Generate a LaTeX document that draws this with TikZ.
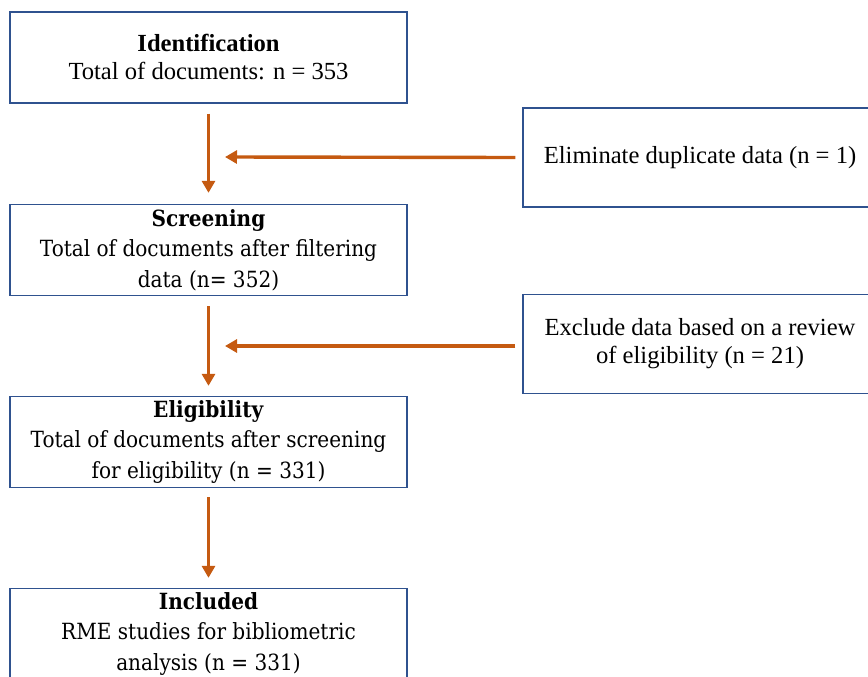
\documentclass[tikz,border=0pt]{standalone}
\usepackage{fontspec}
\usepackage{xcolor}
\usetikzlibrary{arrows.meta}
\setmainfont{Liberation Serif}
\newfontfamily\cambria[FakeStretch=0.9]{DejaVu Serif}
\definecolor{boxblue}{RGB}{47,82,143}
\definecolor{arrorange}{RGB}{197,90,17}

\begin{document}
\begin{tikzpicture}[x=1pt,y=-1pt,
	box/.style={draw=boxblue, line width=1.3pt, minimum width=397pt, minimum height=91pt, align=center, inner sep=0pt},
	sidebox/.style={box, minimum width=354pt, minimum height=99pt},
	times/.style={font=\fontsize{24.6}{28}\selectfont},
	camb/.style={font=\cambria\fontsize{22.3}{30.5}\selectfont},
	arr/.style={draw=arrorange, line width=3.4pt, -{Triangle[length=12pt,width=13pt]}}]
	\useasboundingbox (0,0) rectangle (868,677);
	\clip (0,0) rectangle (868,677);

	% main column
	\node[box,times] (ident) at (208.5,57.5) {\textbf{Identification}\\Total of documents: n = 353};
	\node[box,camb] (screen) at (208.5,250) {\textbf{Screening}\\Total of documents after filtering\\data (n= 352)};
	\node[box,camb] (elig) at (208.5,442) {\textbf{Eligibility}\\Total of documents after screening\\for eligibility (n = 331)};
	\node[box,camb] (incl) at (208.5,634) {\textbf{Included}\\RME studies for bibliometric\\analysis (n = 331)};

	% side boxes
	\node[sidebox,times] (dup) at (700,157.5) {Eliminate duplicate data (n = 1)};
	\node[sidebox,times] (excl) at (700,344) {Exclude data based on a review\\of eligibility (n = 21)};

	\coordinate (m1) at (225,157);
	\coordinate (m2) at (225,346);

	\draw[arr] ([yshift=-10pt]ident.south) -- ([yshift=11pt]screen.north);
	\draw[arr] ([yshift=-10pt]screen.south) -- ([yshift=10pt]elig.north);
	\draw[arr] ([yshift=-9pt]elig.south) -- ([yshift=10pt]incl.north);
	\draw[arr] ([xshift=-7pt]dup.west) -- (m1);
	\draw[arr] ([xshift=-7pt,yshift=-2pt]excl.west) -- (m2);
\end{tikzpicture}
\end{document}
